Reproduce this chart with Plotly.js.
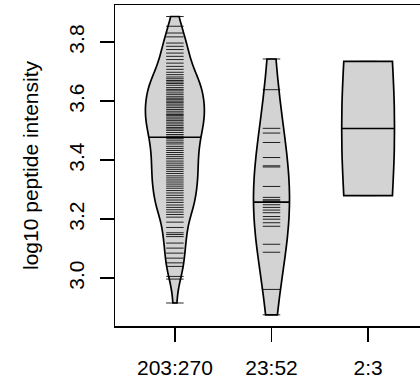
<!DOCTYPE html>
<html>
<head>
<meta charset="utf-8">
<script src="https://cdn.plot.ly/plotly-3.0.1.min.js"></script>
<style>
  html, body { margin: 0; padding: 0; overflow: hidden; background: #fff; }
  #chart { width: 440px; height: 381px; }
</style>
</head>
<body>
<div id="chart"></div>
<script>
// ---- data ----
const categories = ["203:270", "23:52", "2:3"];
const positions = [1, 2, 3];

const bean1 = [
  3.887, 3.854, 3.831, 3.818, 3.797, 3.786,
  3.775, 3.763, 3.752, 3.741, 3.729, 3.718, 3.708,
  3.698, 3.690, 3.682, 3.676, 3.670, 3.665, 3.660, 3.654,
  3.646, 3.640, 3.635, 3.628, 3.622, 3.615, 3.610, 3.605, 3.600,
  3.595, 3.590, 3.584, 3.578, 3.572, 3.566, 3.560, 3.555, 3.551,
  3.546, 3.540, 3.535, 3.529, 3.523, 3.517, 3.511, 3.506, 3.501,
  3.494, 3.487, 3.481, 3.474, 3.468, 3.461, 3.455,
  3.447, 3.440, 3.433, 3.426, 3.419, 3.412, 3.405,
  3.397, 3.390, 3.383, 3.376, 3.369, 3.362, 3.355,
  3.347, 3.340, 3.333, 3.326, 3.319, 3.312, 3.305,
  3.297, 3.289, 3.281, 3.273, 3.265, 3.257,
  3.248, 3.240, 3.232, 3.224, 3.216, 3.207,
  3.190, 3.172, 3.154,
  3.148, 3.141, 3.119, 3.102,
  3.085, 3.068, 3.052,
  3.040, 3.006, 2.997, 2.916
];
const bean2 = [
  3.743, 3.639, 3.508, 3.492, 3.460, 3.409, 3.381, 3.377, 3.311, 3.274,
  3.266, 3.262, 3.258, 3.249, 3.240, 3.231, 3.222, 3.209, 3.200, 3.188,
  3.176, 3.115, 3.088, 2.962, 2.876
];
const bean3 = [3.280, 3.735];

const yTickVals = [3.0, 3.2, 3.4, 3.6, 3.8];
const yTickText = ["3.0", "3.2", "3.4", "3.6", "3.8"];

// ---- styling per bean ----
const beans = [bean1, bean2, bean3];
const beanStyle = [
  { bandwidth: 0.045, width: 0.61 },
  { bandwidth: 0.21, width: 0.373 },
  { bandwidth: 0.5,  width: 0.542 }
];

// same Gaussian KDE and grid that the violin trace uses, to size the median line
function kdeFn(vals, bw) {
  const n = vals.length, f = 1 / (n * bw * Math.sqrt(2 * Math.PI));
  return function (x) {
    let s = 0;
    for (const v of vals) { const z = (x - v) / bw; s += Math.exp(-0.5 * z * z); }
    return f * s;
  };
}
function maxKde(vals, bw) {
  const lo = Math.min(...vals), hi = Math.max(...vals);
  const dist = hi - lo, n = Math.ceil(dist / (bw / 3)), step = dist / n;
  const k = kdeFn(vals, bw);
  let m = 0;
  for (let t = lo; t < hi + step / 2; t += step) m = Math.max(m, k(t));
  return m;
}
function median(vals) {
  const s = [...vals].sort((a, b) => a - b), n = s.length;
  return n % 2 ? s[(n - 1) / 2] : (s[n / 2 - 1] + s[n / 2]) / 2;
}

const traces = [];
beans.forEach((vals, i) => {
  const st = beanStyle[i];
  traces.push({
    type: "violin", x0: positions[i], y: vals, name: categories[i],
    bandwidth: st.bandwidth, spanmode: "hard", width: st.width, scalemode: "width",
    points: false, box: { visible: false }, meanline: { visible: false },
    fillcolor: "#D3D3D3", line: { color: "#000", width: 1.7 },
    hoverinfo: "skip", showlegend: false
  });
});
beans.forEach((vals, i) => {
  traces.push({
    type: "scatter", mode: "markers",
    x: vals.map(() => positions[i]), y: vals,
    marker: { symbol: "line-ew", size: 12.5, color: "#000", line: { color: "rgba(0,0,0,0.85)", width: 1 } },
    hoverinfo: "skip", showlegend: false
  });
});
beans.forEach((vals, i) => {
  const st = beanStyle[i];
  const med = median(vals);
  const hw = (st.width / 2) * kdeFn(vals, st.bandwidth)(med) / maxKde(vals, st.bandwidth);
  traces.push({
    type: "scatter", mode: "lines",
    x: [positions[i] - hw, positions[i] + hw], y: [med, med],
    line: { color: "#000", width: 1.6 },
    hoverinfo: "skip", showlegend: false
  });
});

const font = { family: "Liberation Sans, Arial, Helvetica, sans-serif", size: 21, color: "#000" };

const layout = {
  width: 440, height: 381,
  margin: { l: 115, r: 12, t: 5, b: 55 },
  paper_bgcolor: "#fff", plot_bgcolor: "#fff",
  font: font,
  showlegend: false,
  xaxis: {
    range: [0.38, 3.62], tickmode: "array", tickvals: positions, ticktext: categories,
    ticks: "outside", ticklen: 14, tickwidth: 1.5, tickcolor: "#000",
    showline: true, mirror: true, linecolor: "#000", linewidth: 1.5,
    showgrid: false, zeroline: false, tickfont: font, ticklabelstandoff: 8
  },
  yaxis: {
    range: [2.838, 3.926], tickmode: "array", tickvals: yTickVals, ticktext: yTickText,
    tickangle: -90,
    ticks: "outside", ticklen: 14, tickwidth: 1.5, tickcolor: "#000",
    showline: true, mirror: true, linecolor: "#000", linewidth: 1.5,
    showgrid: false, zeroline: false, tickfont: font, ticklabelstandoff: 7,
    title: { text: "log10 peptide intensity", font: font, standoff: 20 }
  }
};

Plotly.newPlot("chart", traces, layout, { staticPlot: true, displayModeBar: false });
</script>
</body>
</html>
